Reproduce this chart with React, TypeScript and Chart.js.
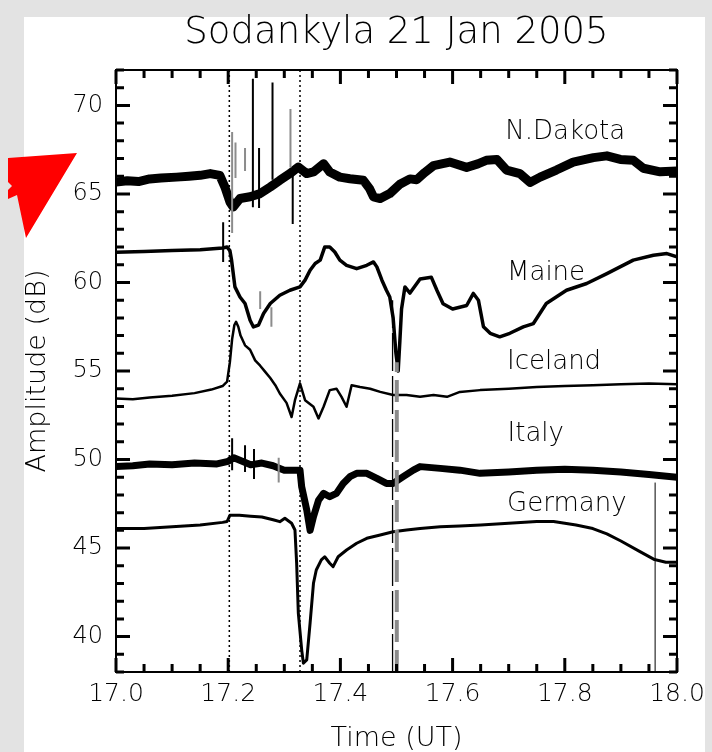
import React, { useEffect, useRef } from 'react';
import { Chart, registerables } from 'chart.js';

Chart.register(...registerables);

// ---------- text ----------
const TITLE = 'Sodankyla 21 Jan 2005';
const X_TITLE = 'Time (UT)';
const Y_TITLE = 'Amplitude (dB)';
const X_TICKS = [17.0, 17.2, 17.4, 17.6, 17.8, 18.0];
const Y_TICKS = [40, 45, 50, 55, 60, 65, 70];
const X_RANGE = [17.0, 18.0];
const Y_RANGE = [38, 72];
const X_MINOR_STEP = 0.05;
const Y_MINOR_STEP = 1;

// series name labels placed next to traces (time, dB)
const SERIES_NAMES = ['N.Dakota', 'Maine', 'Iceland', 'Italy', 'Germany'];
const NAME_T = [17.694, 17.697, 17.697, 17.698, 17.697];
const NAME_V = [68.5, 60.5, 55.5, 51.45, 47.45];

// ---------- N.Dakota ----------
const ND_T = [17.0, 17.02, 17.04, 17.06, 17.08, 17.108, 17.13, 17.15, 17.168, 17.185, 17.194, 17.203, 17.209, 17.221, 17.239, 17.257, 17.275, 17.292, 17.31, 17.325, 17.34, 17.352, 17.37, 17.381, 17.399, 17.417, 17.441, 17.452, 17.459, 17.471, 17.488, 17.506, 17.524, 17.536, 17.55, 17.566, 17.595, 17.625, 17.645, 17.66, 17.679, 17.696, 17.72, 17.738, 17.756, 17.785, 17.815, 17.851, 17.875, 17.899, 17.922, 17.94, 17.97, 18.0];
const ND_V = [65.67, 65.75, 65.7, 65.85, 65.9, 65.95, 66.0, 66.05, 66.15, 66.05, 65.4, 64.55, 64.26, 64.74, 64.84, 65.02, 65.39, 65.77, 66.15, 66.52, 66.15, 66.24, 66.71, 66.24, 65.95, 65.86, 65.77, 65.3, 64.83, 64.74, 65.02, 65.55, 65.85, 65.8, 66.2, 66.6, 66.8, 66.5, 66.7, 66.9, 66.95, 66.35, 66.15, 65.65, 65.95, 66.35, 66.8, 67.05, 67.15, 66.95, 66.9, 66.45, 66.25, 66.3];

// ---------- Maine ----------
const ME_T = [17.0, 17.05, 17.1, 17.15, 17.19, 17.198, 17.203, 17.206, 17.212, 17.221, 17.23, 17.239, 17.245, 17.254, 17.263, 17.275, 17.292, 17.31, 17.328, 17.337, 17.346, 17.355, 17.364, 17.372, 17.381, 17.39, 17.399, 17.411, 17.429, 17.447, 17.459, 17.465, 17.474, 17.482, 17.488, 17.494, 17.499, 17.503, 17.506, 17.509, 17.515, 17.524, 17.542, 17.562, 17.572, 17.583, 17.6, 17.625, 17.637, 17.646, 17.655, 17.667, 17.684, 17.702, 17.726, 17.744, 17.767, 17.803, 17.839, 17.875, 17.922, 17.958, 17.982, 18.0];
const ME_V = [61.7, 61.75, 61.8, 61.85, 61.95, 62.0, 61.8, 61.26, 59.75, 59.18, 58.81, 57.87, 57.49, 57.59, 58.25, 58.81, 59.28, 59.56, 59.75, 60.13, 60.69, 61.07, 61.26, 62.0, 62.0, 61.72, 61.26, 60.97, 60.78, 60.97, 61.16, 60.88, 60.13, 59.56, 59.18, 58.0, 56.0, 55.0, 56.7, 58.5, 59.75, 59.4, 60.2, 60.3, 59.56, 58.8, 58.5, 58.7, 59.38, 59.0, 57.5, 57.13, 56.93, 57.13, 57.49, 57.68, 58.81, 59.56, 59.94, 60.5, 61.26, 61.54, 61.63, 61.45];

// ---------- Iceland ----------
const IC_T = [17.0, 17.03, 17.06, 17.1, 17.14, 17.17, 17.19, 17.198, 17.203, 17.207, 17.211, 17.214, 17.218, 17.222, 17.23, 17.239, 17.248, 17.257, 17.266, 17.275, 17.284, 17.292, 17.304, 17.313, 17.319, 17.328, 17.337, 17.352, 17.361, 17.37, 17.381, 17.393, 17.402, 17.411, 17.42, 17.435, 17.453, 17.471, 17.494, 17.518, 17.542, 17.566, 17.59, 17.613, 17.649, 17.7, 17.75, 17.8, 17.85, 17.9, 17.95, 18.0];
const IC_V = [53.45, 53.4, 53.5, 53.6, 53.75, 53.95, 54.15, 54.4, 55.5, 56.8, 57.6, 57.78, 57.5, 57.0, 56.45, 56.2, 55.6, 55.3, 54.95, 54.6, 54.2, 53.73, 53.2, 52.4, 53.35, 54.3, 53.35, 52.98, 52.32, 52.98, 53.92, 54.0, 53.54, 52.98, 54.2, 54.1, 54.0, 53.82, 53.64, 53.64, 53.54, 53.64, 53.54, 53.82, 53.92, 54.0, 54.1, 54.15, 54.2, 54.25, 54.3, 54.25];

// ---------- Italy ----------
const IT_T = [17.0, 17.03, 17.06, 17.1, 17.14, 17.18, 17.2, 17.21, 17.225, 17.24, 17.26, 17.28, 17.292, 17.3, 17.328, 17.331, 17.34, 17.346, 17.352, 17.361, 17.37, 17.381, 17.393, 17.405, 17.417, 17.429, 17.447, 17.465, 17.482, 17.494, 17.512, 17.53, 17.542, 17.578, 17.613, 17.649, 17.7, 17.75, 17.8, 17.85, 17.9, 17.95, 18.0];
const IT_V = [49.6, 49.65, 49.75, 49.7, 49.8, 49.75, 49.9, 50.1, 49.9, 49.7, 49.8, 49.65, 49.5, 49.4, 49.4, 48.46, 47.15, 46.0, 46.77, 47.7, 48.09, 47.9, 48.09, 48.65, 49.03, 49.22, 49.22, 48.94, 48.65, 48.65, 49.03, 49.4, 49.6, 49.5, 49.4, 49.22, 49.3, 49.4, 49.45, 49.4, 49.3, 49.15, 49.0];

// ---------- Germany ----------
const GE_T = [17.0, 17.05, 17.1, 17.15, 17.19, 17.198, 17.203, 17.22, 17.24, 17.26, 17.28, 17.292, 17.301, 17.313, 17.319, 17.322, 17.325, 17.331, 17.334, 17.34, 17.346, 17.352, 17.357, 17.366, 17.372, 17.381, 17.387, 17.396, 17.411, 17.429, 17.447, 17.471, 17.494, 17.518, 17.542, 17.578, 17.613, 17.65, 17.7, 17.75, 17.78, 17.82, 17.85, 17.875, 17.9, 17.934, 17.96, 17.98, 18.0];
const GE_V = [46.1, 46.1, 46.2, 46.3, 46.45, 46.5, 46.85, 46.85, 46.8, 46.75, 46.6, 46.49, 46.68, 46.4, 46.02, 44.15, 41.33, 39.25, 38.5, 38.68, 40.77, 43.01, 43.76, 44.33, 44.51, 44.14, 43.95, 44.51, 44.89, 45.27, 45.55, 45.74, 45.92, 46.02, 46.11, 46.21, 46.25, 46.3, 46.4, 46.5, 46.5, 46.3, 46.1, 45.8, 45.4, 44.8, 44.35, 44.2, 44.2];

// ---------- spikes (time, low, high) ----------
const SPK_BLACK_T = [17.191, 17.244, 17.255, 17.279, 17.315, 17.207, 17.23, 17.246];
const SPK_BLACK_LO = [61.15, 64.25, 64.2, 65.8, 63.3, 49.4, 49.3, 48.9];
const SPK_BLACK_HI = [63.4, 71.5, 67.6, 71.3, 66.5, 51.2, 50.8, 50.6];
const SPK_GRAY_T = [17.207, 17.213, 17.23, 17.311, 17.257, 17.277, 17.29];
const SPK_GRAY_LO = [62.8, 65.9, 66.3, 66.5, 58.5, 57.5, 48.7];
const SPK_GRAY_HI = [68.5, 67.9, 67.6, 69.8, 59.5, 58.6, 50.1];

// ---------- vertical markers ----------
const DOT_T = [17.202, 17.328];
const DASH_BLACK = { t: 17.493, lo: 38, hi: 59.0 };
const DASH_GRAY = { t: 17.5005, lo: 38, hi: 55.5 };
const SOLID_MARK = { t: 17.961, lo: 38, hi: 48.7 };

const FONT = 'DejaVu Sans';

function pts(t: number[], v: number[]) {
  return t.map((x, i) => ({ x, y: v[i] }));
}
function spikes(t: number[], lo: number[], hi: number[]) {
  const out: any[] = [];
  t.forEach((x, i) => {
    out.push({ x, y: lo[i] }, { x, y: hi[i] }, { x, y: null });
  });
  return out;
}
function vline(t: number, lo: number, hi: number) {
  return [{ x: t, y: lo }, { x: t, y: hi }];
}

// inward tick marks on all four sides + frame + series names
const frameTicks = {
  id: 'frameTicks',
  afterDraw(chart: any) {
    const ctx: CanvasRenderingContext2D = chart.ctx;
    const a = chart.chartArea;
    const xs = chart.scales.x;
    const ys = chart.scales.y;
    ctx.save();
    ctx.setLineDash([]);
    ctx.globalAlpha = 1;
    ctx.strokeStyle = '#000000';
    ctx.lineWidth = 3;
    ctx.lineCap = 'butt';
    const L = a.left;
    const R = a.right;
    const T = a.top;
    const B = a.bottom;
    ctx.beginPath();
    const nx = Math.round((X_RANGE[1] - X_RANGE[0]) / X_MINOR_STEP);
    for (let i = 0; i <= nx; i++) {
      const v = X_RANGE[0] + i * X_MINOR_STEP;
      const major = X_TICKS.some((m) => Math.abs(m - v) < 1e-6);
      const len = major ? 14 : 8;
      const px = xs.getPixelForValue(v);
      ctx.moveTo(px, B);
      ctx.lineTo(px, B - len);
      ctx.moveTo(px, T);
      ctx.lineTo(px, T + len);
    }
    const ny = Math.round((Y_RANGE[1] - Y_RANGE[0]) / Y_MINOR_STEP);
    for (let j = 0; j <= ny; j++) {
      const v = Y_RANGE[0] + j * Y_MINOR_STEP;
      const major = Y_TICKS.some((m) => Math.abs(m - v) < 1e-6);
      const len = major ? 14 : 8;
      const py = ys.getPixelForValue(v);
      ctx.moveTo(L, py);
      ctx.lineTo(L + len, py);
      ctx.moveTo(R, py);
      ctx.lineTo(R - len, py);
    }
    ctx.stroke();
    ctx.lineWidth = 2;
    ctx.strokeRect(L, T, R - L, B - T);
    // series labels
    ctx.fillStyle = '#000000';
    ctx.font = `200 26px "${FONT}"`;
    ctx.textAlign = 'left';
    ctx.textBaseline = 'middle';
    SERIES_NAMES.forEach((n, i) => {
      ctx.fillText(n, xs.getPixelForValue(NAME_T[i]), ys.getPixelForValue(NAME_V[i]));
    });
    ctx.restore();
  },
};

export default function App() {
  const ref = useRef<HTMLCanvasElement>(null);
  useEffect(() => {
    if (!ref.current) return;
    const common = { pointRadius: 0, tension: 0, fill: false, spanGaps: false };
    const chart = new Chart(ref.current, {
      type: 'line',
      data: {
        datasets: [
          { label: 'dot1', data: vline(DOT_T[0], Y_RANGE[0], Y_RANGE[1]), borderColor: '#000', borderWidth: 1.5, borderDash: [2, 3], ...common },
          { label: 'dot2', data: vline(DOT_T[1], Y_RANGE[0], Y_RANGE[1]), borderColor: '#000', borderWidth: 1.5, borderDash: [2, 3], ...common },
          { label: 'dashGray', data: vline(DASH_GRAY.t, DASH_GRAY.lo, DASH_GRAY.hi), borderColor: '#8a8a8a', borderWidth: 4, borderDash: [22, 8], ...common },
          { label: 'dashBlack', data: vline(DASH_BLACK.t, DASH_BLACK.lo, DASH_BLACK.hi), borderColor: '#000', borderWidth: 1.3, borderDash: [38, 5], ...common },
          { label: 'solidMark', data: vline(SOLID_MARK.t, SOLID_MARK.lo, SOLID_MARK.hi), borderColor: '#000', borderWidth: 1, ...common },
          { label: 'spikesGray', data: spikes(SPK_GRAY_T, SPK_GRAY_LO, SPK_GRAY_HI), borderColor: '#8c8c8c', borderWidth: 2, ...common },
          { label: 'spikesBlack', data: spikes(SPK_BLACK_T, SPK_BLACK_LO, SPK_BLACK_HI), borderColor: '#000', borderWidth: 2, ...common },
          { label: SERIES_NAMES[0], data: pts(ND_T, ND_V), borderColor: '#000', borderWidth: 9, borderJoinStyle: 'round', ...common },
          { label: SERIES_NAMES[1], data: pts(ME_T, ME_V), borderColor: '#000', borderWidth: 3.5, borderJoinStyle: 'round', ...common },
          { label: SERIES_NAMES[2], data: pts(IC_T, IC_V), borderColor: '#000', borderWidth: 2.5, borderJoinStyle: 'round', ...common },
          { label: SERIES_NAMES[3], data: pts(IT_T, IT_V), borderColor: '#000', borderWidth: 7, borderJoinStyle: 'round', ...common },
          { label: SERIES_NAMES[4], data: pts(GE_T, GE_V), borderColor: '#000', borderWidth: 3, borderJoinStyle: 'round', ...common },
        ] as any,
      },
      options: {
        animation: false,
        responsive: false,
        devicePixelRatio: 1,
        layout: { padding: { left: 0, right: 35, top: 0, bottom: 0 } },
        plugins: {
          legend: { display: false },
          tooltip: { enabled: false },
          title: {
            display: true,
            text: TITLE,
            fullSize: false,
            color: '#000',
            font: { family: FONT, size: 37, weight: '200' as any, lineHeight: 1.2 },
            padding: { top: 11, bottom: 14.6 },
          },
        },
        scales: {
          x: {
            type: 'linear',
            min: X_RANGE[0],
            max: X_RANGE[1],
            afterFit: (s: any) => { s.height = 80; },
            afterBuildTicks: (s: any) => { s.ticks = X_TICKS.map((value) => ({ value })); },
            grid: { display: false, drawTicks: false },
            border: { display: false },
            ticks: {
              color: '#000',
              padding: 7,
              maxRotation: 0,
              autoSkip: false,
              font: { family: FONT, size: 25, weight: '200' as any },
              callback: (v: any) => Number(v).toFixed(1),
            },
            title: {
              display: true,
              text: X_TITLE,
              color: '#000',
              font: { family: FONT, size: 27, weight: '200' as any, lineHeight: 1.2 },
              padding: { top: 0, bottom: -3 },
            },
          },
          y: {
            type: 'linear',
            min: Y_RANGE[0],
            max: Y_RANGE[1],
            afterFit: (s: any) => { s.width = 116; },
            afterBuildTicks: (s: any) => { s.ticks = Y_TICKS.map((value) => ({ value })); },
            grid: { display: false, drawTicks: false },
            border: { display: false },
            ticks: {
              color: '#000',
              padding: 13,
              autoSkip: false,
              font: { family: FONT, size: 24, weight: '200' as any },
              callback: (v: any) => String(v),
            },
            title: {
              display: true,
              text: Y_TITLE,
              color: '#000',
              font: { family: FONT, size: 27, weight: '200' as any, lineHeight: 1.2 },
              padding: { top: 22, bottom: 0 },
            },
          },
        },
      },
      plugins: [frameTicks],
    });
    return () => chart.destroy();
  }, []);

  return (
    <div style={{ position: 'fixed', left: 0, top: 0, width: 712, height: 752, background: '#e3e3e3', overflow: 'hidden' }}>
      <div style={{ position: 'absolute', left: 24, top: 17, width: 681, height: 735, background: '#fff' }} />
      <div
        style={{
          position: 'absolute', left: 0, top: 0, width: 100, height: 260, background: '#ff0000',
          clipPath: 'polygon(8px 158px, 77px 153px, 26px 238px, 17px 195px, 8px 199px, 8px 190px, 12px 186px, 8px 182px)',
        }}
      />
      <canvas ref={ref} width={712} height={752} style={{ position: 'absolute', left: 0, top: 0, width: 712, height: 752 }} />
    </div>
  );
}
